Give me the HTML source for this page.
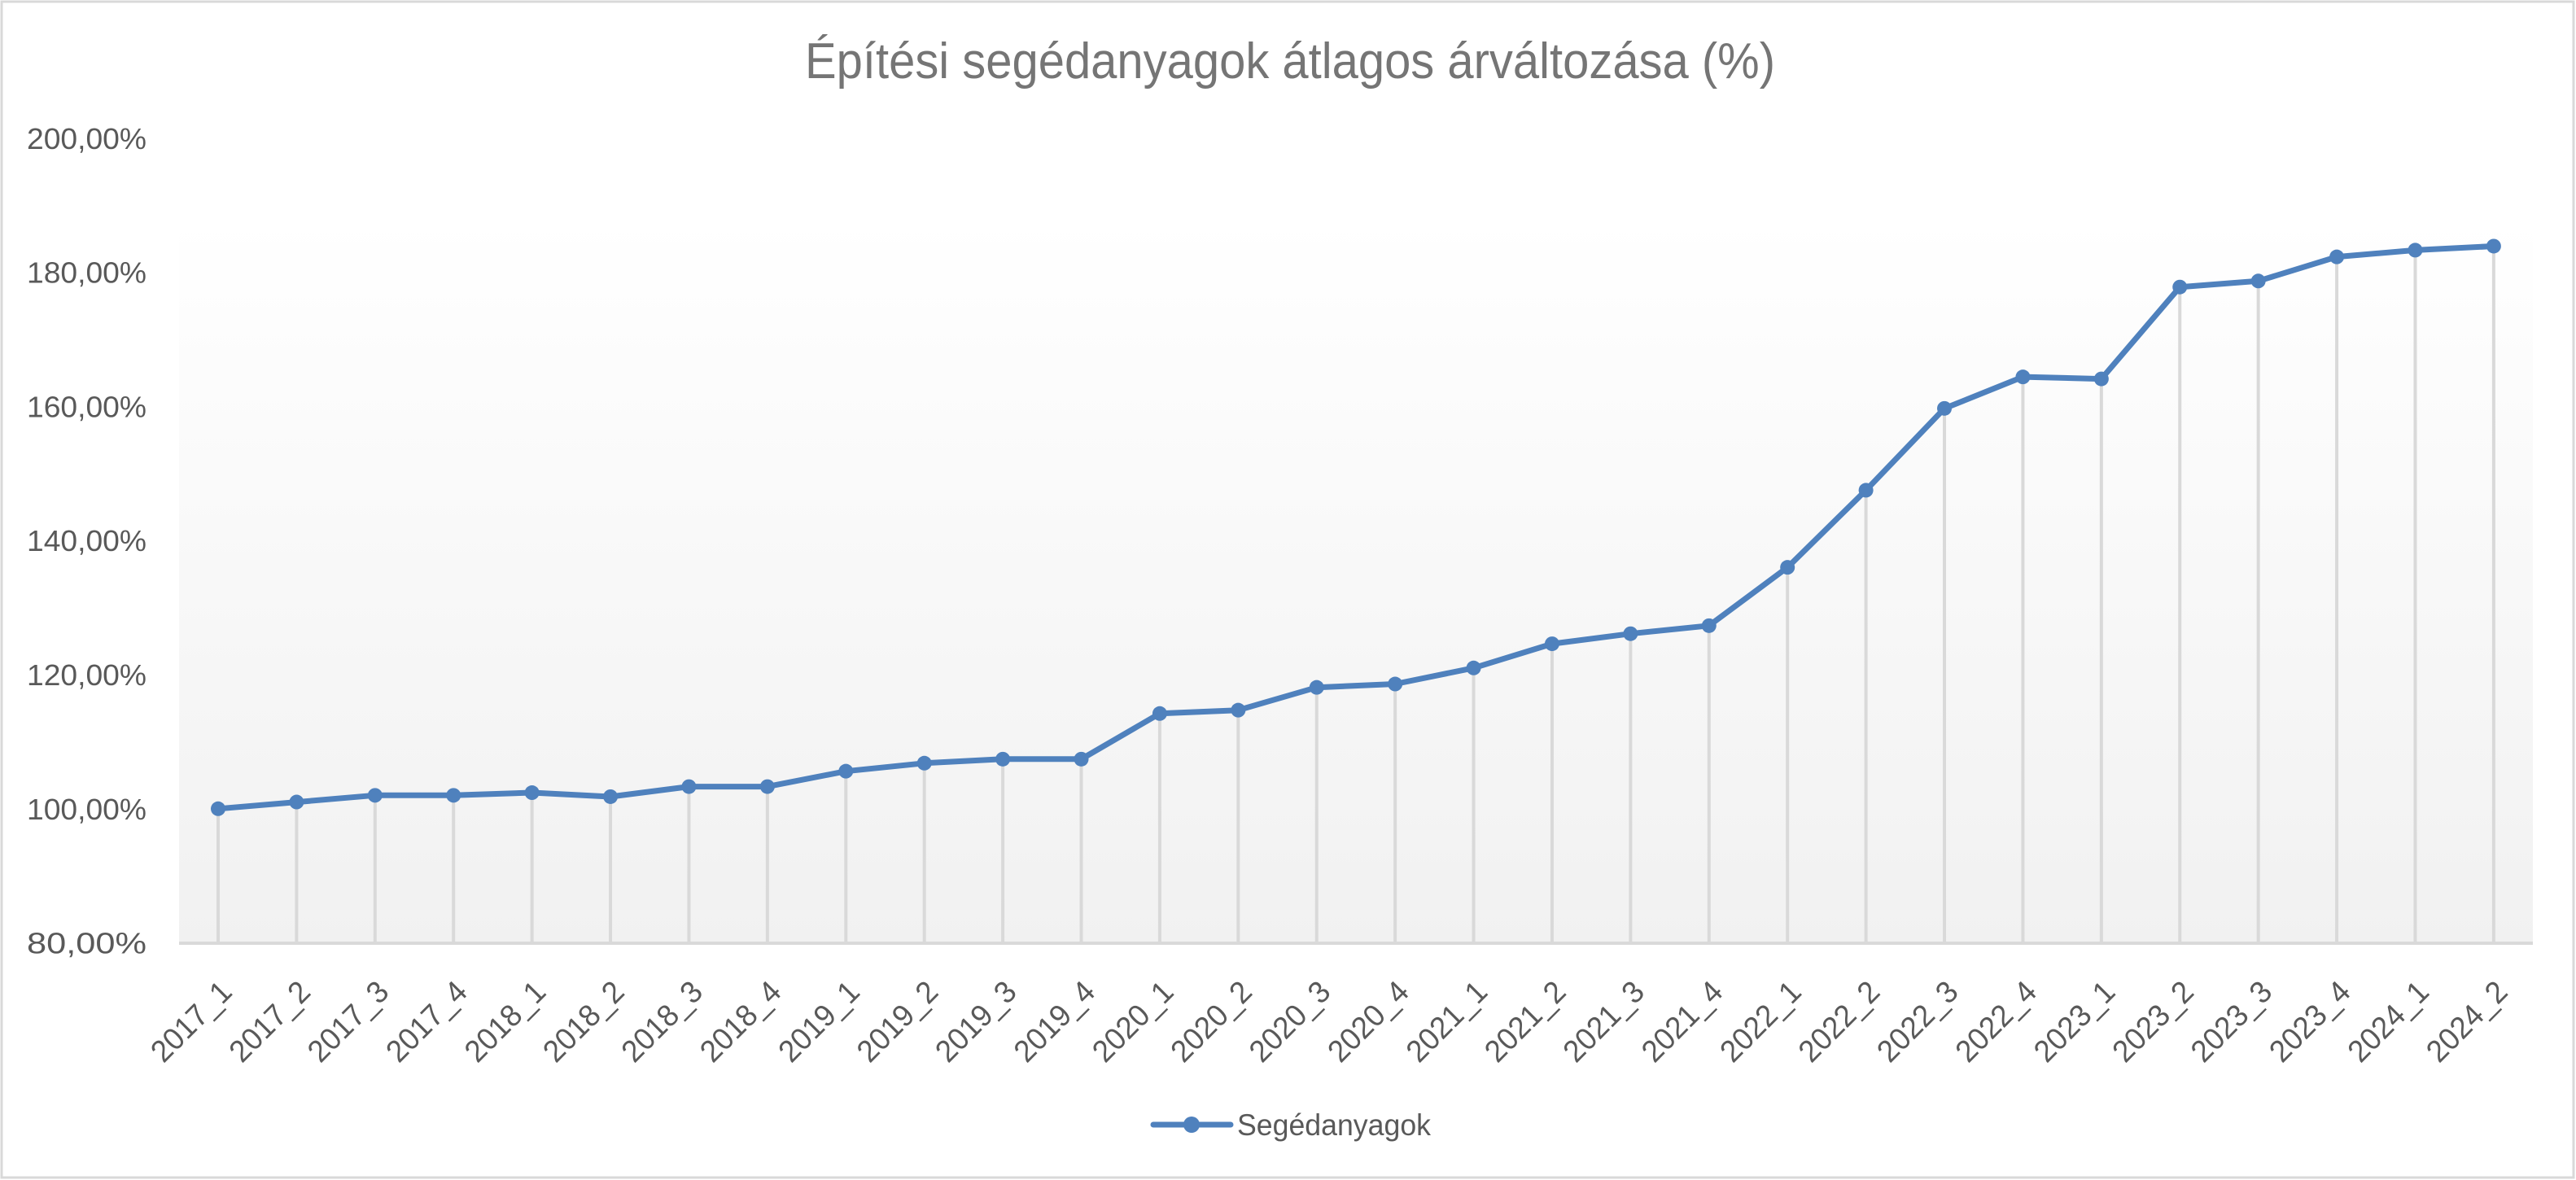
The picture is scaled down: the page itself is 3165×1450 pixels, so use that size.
<!DOCTYPE html>
<html><head><meta charset="utf-8"><style>
html,body{margin:0;padding:0;background:#fff;}
svg{display:block;}
text{font-family:"Liberation Sans",sans-serif;}
</style></head><body>
<svg width="3165" height="1450" viewBox="0 0 3165 1450" xmlns="http://www.w3.org/2000/svg">
<defs>
<linearGradient id="bg" x1="0" y1="0" x2="0" y2="1">
<stop offset="0" stop-color="#ffffff"/>
<stop offset="1" stop-color="#f1f1f1"/>
</linearGradient>
</defs>
<rect x="0" y="0" width="3165" height="1450" fill="#fff"/>
<rect x="2" y="2" width="3160" height="1445" fill="none" stroke="#d9d9d9" stroke-width="3"/>
<text x="1585" y="96" text-anchor="middle" font-size="62" fill="#757575" textLength="1192" lengthAdjust="spacingAndGlyphs">Építési segédanyagok átlagos árváltozása (%)</text>
<rect x="220" y="270" width="2892" height="889" fill="url(#bg)"/>
<g id="drops" stroke="#d9d9d9" stroke-width="4"></g>
<line x1="220" y1="1159" x2="3112" y2="1159" stroke="#d9d9d9" stroke-width="4"/>
<g id="ylab" font-size="36" fill="#595959" text-anchor="end"></g>
<g id="xlab" font-size="38" fill="#595959" text-anchor="end"></g>
<polyline id="ln" fill="none" stroke="#4f81bd" stroke-width="7" stroke-linejoin="round"/>
<g id="mk" fill="#4f81bd"></g>
<line x1="1417" y1="1382" x2="1512" y2="1382" stroke="#4f81bd" stroke-width="7" stroke-linecap="round"/>
<circle cx="1464" cy="1382" r="10" fill="#4f81bd"/>
<text x="1520" y="1395" font-size="37" fill="#595959" textLength="238" lengthAdjust="spacingAndGlyphs">Segédanyagok</text>
</svg>
<script>
var vals=[100,101,102,102,102.4,101.8,103.3,103.3,105.6,106.8,107.4,107.4,114.2,114.7,118.1,118.6,121,124.6,126.1,127.3,136,147.5,159.7,164.4,164.1,177.8,178.7,182.3,183.3,183.9];
var labs=[];for(var y=2017;y<=2024;y++)for(var q=1;q<=4;q++)labs.push(y+"_"+q);labs=labs.slice(0,30);
var ns="http://www.w3.org/2000/svg";
function Y(v){return 1158.6-(v-80)*8.24;}
function X(i){return 268+i*96.41;}
var pts=[],d=document.getElementById("drops"),mk=document.getElementById("mk"),xl=document.getElementById("xlab"),yl=document.getElementById("ylab");
for(var i=0;i<30;i++){var x=X(i),y=Y(vals[i]);pts.push(x.toFixed(1)+","+y.toFixed(1));
var l=document.createElementNS(ns,"line");l.setAttribute("x1",x);l.setAttribute("x2",x);l.setAttribute("y1",y);l.setAttribute("y2",1159);d.appendChild(l);
var c=document.createElementNS(ns,"circle");c.setAttribute("cx",x);c.setAttribute("cy",y);c.setAttribute("r",9);mk.appendChild(c);
var t=document.createElementNS(ns,"text");var tx=x+12,ty=1214;t.setAttribute("x",tx);t.setAttribute("y",ty);t.setAttribute("dominant-baseline","middle");t.setAttribute("transform","rotate(-45 "+tx+" "+ty+")");t.setAttribute("textLength","122");t.setAttribute("lengthAdjust","spacingAndGlyphs");t.textContent=labs[i];xl.appendChild(t);}
document.getElementById("ln").setAttribute("points",pts.join(" "));
for(var v=80;v<=200;v+=20){var t=document.createElementNS(ns,"text");t.setAttribute("x",180);t.setAttribute("y",Y(v)+13);t.setAttribute("textLength","147");t.setAttribute("lengthAdjust","spacingAndGlyphs");t.textContent=v+",00%";yl.appendChild(t);}
</script>
</body></html>
